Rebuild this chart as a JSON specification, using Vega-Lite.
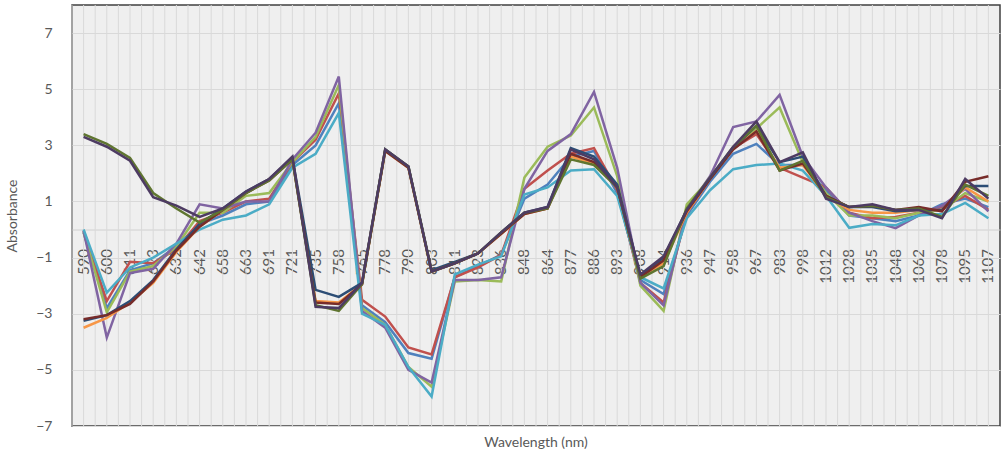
{
  "$schema": "https://vega.github.io/schema/vega-lite/v6.json",
  "width": 928,
  "height": 421,
  "autosize": {"type": "none"},
  "padding": {"left": 72, "top": 5, "right": 6, "bottom": 31},
  "background": "white",
  "config": {
    "font": "Lato",
    "view": {"stroke": "#404040", "strokeWidth": 1.5, "fill": "#efefef"},
    "axisX": {
      "title": null,
      "labelAngle": -90,
      "offset": -196.5,
      "ticks": false,
      "grid": false,
      "domainColor": "#d0d0d0",
      "domainWidth": 1,
      "labelColor": "#595959",
      "labelFont": "Lato",
      "labelFontSize": 15,
      "labelPadding": 19,
      "labelOverlap": false
    }
  },
  "title": {
    "text": "Wavelength (nm)",
    "orient": "bottom",
    "anchor": "middle",
    "font": "Lato",
    "fontSize": 14,
    "fontWeight": "normal",
    "color": "#595959",
    "offset": 3
  },
  "data": {
    "values": [
      {"wl": 590, "S1": -0.1, "S2": -0.05, "S3": -0.1, "S4": -0.05, "S5": 0.0, "S6": -3.5, "S7": -3.25, "S8": -3.2, "S9": 3.4, "S10": 3.3},
      {"wl": 600, "S1": -2.8, "S2": -2.55, "S3": -2.95, "S4": -3.85, "S5": -2.25, "S6": -3.15, "S7": -3.05, "S8": -3.05, "S9": 3.05, "S10": 2.95},
      {"wl": 611, "S1": -1.45, "S2": -1.15, "S3": -1.5, "S4": -1.55, "S5": -1.35, "S6": -2.6, "S7": -2.55, "S8": -2.65, "S9": 2.55, "S10": 2.45},
      {"wl": 623, "S1": -1.2, "S2": -1.2, "S3": -1.3, "S4": -1.4, "S5": -1.0, "S6": -1.9, "S7": -1.8, "S8": -1.85, "S9": 1.3, "S10": 1.15},
      {"wl": 632, "S1": -0.6, "S2": -0.7, "S3": -0.6, "S4": -0.5, "S5": -0.5, "S6": -0.8, "S7": -0.7, "S8": -0.75, "S9": 0.75, "S10": 0.85},
      {"wl": 642, "S1": 0.2, "S2": 0.3, "S3": 0.6, "S4": 0.9, "S5": 0.0, "S6": 0.1, "S7": 0.2, "S8": 0.1, "S9": 0.25, "S10": 0.45},
      {"wl": 658, "S1": 0.5, "S2": 0.6, "S3": 0.6, "S4": 0.75, "S5": 0.35, "S6": 0.7, "S7": 0.75, "S8": 0.7, "S9": 0.7, "S10": 0.75},
      {"wl": 663, "S1": 0.9, "S2": 1.0, "S3": 1.2, "S4": 1.0, "S5": 0.5, "S6": 1.3, "S7": 1.35, "S8": 1.3, "S9": 1.3, "S10": 1.35},
      {"wl": 691, "S1": 1.0, "S2": 1.1, "S3": 1.3, "S4": 1.0, "S5": 0.9, "S6": 1.8, "S7": 1.8, "S8": 1.75, "S9": 1.75, "S10": 1.8},
      {"wl": 721, "S1": 2.3, "S2": 2.4, "S3": 2.4, "S4": 2.5, "S5": 2.2, "S6": 2.5, "S7": 2.55, "S8": 2.5, "S9": 2.5, "S10": 2.6},
      {"wl": 735, "S1": 3.0, "S2": 3.2, "S3": 3.3, "S4": 3.45, "S5": 2.7, "S6": -2.55, "S7": -2.15, "S8": -2.6, "S9": -2.7, "S10": -2.75},
      {"wl": 758, "S1": 4.5, "S2": 4.85, "S3": 5.15, "S4": 5.45, "S5": 4.15, "S6": -2.6, "S7": -2.4, "S8": -2.65, "S9": -2.9, "S10": -2.8},
      {"wl": 765, "S1": -2.7, "S2": -2.5, "S3": -2.8, "S4": -2.9, "S5": -3.0, "S6": -1.95, "S7": -1.9, "S8": -1.95, "S9": -1.95, "S10": -1.9},
      {"wl": 778, "S1": -3.3, "S2": -3.1, "S3": -3.4, "S4": -3.5, "S5": -3.4, "S6": 2.8, "S7": 2.85, "S8": 2.8, "S9": 2.85, "S10": 2.85},
      {"wl": 790, "S1": -4.4, "S2": -4.2, "S3": -4.9, "S4": -5.0, "S5": -4.9, "S6": 2.2, "S7": 2.25, "S8": 2.2, "S9": 2.25, "S10": 2.25},
      {"wl": 803, "S1": -4.6, "S2": -4.45, "S3": -5.6, "S4": -5.45, "S5": -5.95, "S6": -1.5, "S7": -1.45, "S8": -1.5, "S9": -1.5, "S10": -1.5},
      {"wl": 811, "S1": -1.7, "S2": -1.7, "S3": -1.85, "S4": -1.8, "S5": -1.6, "S6": -1.2, "S7": -1.15, "S8": -1.2, "S9": -1.2, "S10": -1.2},
      {"wl": 823, "S1": -1.3, "S2": -1.35, "S3": -1.8, "S4": -1.8, "S5": -1.25, "S6": -0.85, "S7": -0.85, "S8": -0.85, "S9": -0.85, "S10": -0.85},
      {"wl": 836, "S1": -0.9, "S2": -0.9, "S3": -1.85, "S4": -1.7, "S5": -0.95, "S6": -0.15, "S7": -0.1, "S8": -0.15, "S9": -0.1, "S10": -0.1},
      {"wl": 848, "S1": 1.1, "S2": 1.45, "S3": 1.85, "S4": 1.45, "S5": 1.25, "S6": 0.55, "S7": 0.6, "S8": 0.55, "S9": 0.6, "S10": 0.6},
      {"wl": 864, "S1": 1.6, "S2": 2.1, "S3": 2.95, "S4": 2.8, "S5": 1.5, "S6": 0.75, "S7": 0.8, "S8": 0.75, "S9": 0.75, "S10": 0.8},
      {"wl": 877, "S1": 2.6, "S2": 2.7, "S3": 3.35, "S4": 3.4, "S5": 2.1, "S6": 2.6, "S7": 2.9, "S8": 2.7, "S9": 2.5, "S10": 2.85},
      {"wl": 886, "S1": 2.8, "S2": 2.9, "S3": 4.35, "S4": 4.9, "S5": 2.15, "S6": 2.35, "S7": 2.6, "S8": 2.4, "S9": 2.3, "S10": 2.5},
      {"wl": 893, "S1": 1.3, "S2": 1.4, "S3": 1.9, "S4": 2.2, "S5": 1.2, "S6": 1.5, "S7": 1.6, "S8": 1.5, "S9": 1.5, "S10": 1.5},
      {"wl": 908, "S1": -1.8, "S2": -1.9, "S3": -2.0, "S4": -1.9, "S5": -1.7, "S6": -1.7, "S7": -1.65, "S8": -1.7, "S9": -1.75, "S10": -1.6},
      {"wl": 914, "S1": -2.3, "S2": -2.6, "S3": -2.9, "S4": -2.7, "S5": -2.1, "S6": -1.2, "S7": -1.0, "S8": -1.1, "S9": -1.3, "S10": -0.95},
      {"wl": 936, "S1": 0.5, "S2": 0.6, "S3": 0.9, "S4": 0.7, "S5": 0.4, "S6": 0.6, "S7": 0.7, "S8": 0.65, "S9": 0.75, "S10": 0.7},
      {"wl": 947, "S1": 1.7, "S2": 1.8, "S3": 1.8, "S4": 1.9, "S5": 1.4, "S6": 1.8, "S7": 1.8, "S8": 1.8, "S9": 1.85, "S10": 1.85},
      {"wl": 958, "S1": 2.7, "S2": 2.9, "S3": 2.9, "S4": 3.65, "S5": 2.15, "S6": 2.9, "S7": 2.9, "S8": 2.85, "S9": 2.95, "S10": 2.95},
      {"wl": 967, "S1": 3.05, "S2": 3.4, "S3": 3.6, "S4": 3.85, "S5": 2.3, "S6": 3.5, "S7": 3.7, "S8": 3.5, "S9": 3.7, "S10": 3.85},
      {"wl": 983, "S1": 2.3, "S2": 2.2, "S3": 4.35, "S4": 4.8, "S5": 2.35, "S6": 2.2, "S7": 2.4, "S8": 2.1, "S9": 2.1, "S10": 2.4},
      {"wl": 998, "S1": 2.3, "S2": 1.85, "S3": 2.4, "S4": 2.6, "S5": 2.1, "S6": 2.3, "S7": 2.6, "S8": 2.35, "S9": 2.45, "S10": 2.75},
      {"wl": 1012, "S1": 1.4, "S2": 1.5, "S3": 1.3, "S4": 1.5, "S5": 1.2, "S6": 1.2, "S7": 1.2, "S8": 1.2, "S9": 1.15, "S10": 1.1},
      {"wl": 1028, "S1": 0.5, "S2": 0.6, "S3": 0.5, "S4": 0.6, "S5": 0.06, "S6": 0.7, "S7": 0.8, "S8": 0.8, "S9": 0.8, "S10": 0.8},
      {"wl": 1035, "S1": 0.4, "S2": 0.4, "S3": 0.5, "S4": 0.3, "S5": 0.2, "S6": 0.6, "S7": 0.8, "S8": 0.85, "S9": 0.85, "S10": 0.9},
      {"wl": 1048, "S1": 0.3, "S2": 0.45, "S3": 0.4, "S4": 0.05, "S5": 0.15, "S6": 0.6, "S7": 0.65, "S8": 0.7, "S9": 0.7, "S10": 0.7},
      {"wl": 1062, "S1": 0.5, "S2": 0.6, "S3": 0.6, "S4": 0.5, "S5": 0.5, "S6": 0.7, "S7": 0.7, "S8": 0.8, "S9": 0.75, "S10": 0.7},
      {"wl": 1078, "S1": 0.9, "S2": 0.8, "S3": 0.7, "S4": 0.85, "S5": 0.55, "S6": 0.7, "S7": 0.7, "S8": 0.65, "S9": 0.45, "S10": 0.4},
      {"wl": 1095, "S1": 1.1, "S2": 1.2, "S3": 1.3, "S4": 1.45, "S5": 0.95, "S6": 1.5, "S7": 1.55, "S8": 1.7, "S9": 1.6, "S10": 1.8},
      {"wl": 1107, "S1": 0.8, "S2": 0.7, "S3": 1.0, "S4": 0.65, "S5": 0.4, "S6": 1.0, "S7": 1.55, "S8": 1.9, "S9": 1.2, "S10": 1.1}
    ]
  },
  "layer": [
    {
      "mark": {"type": "rule", "color": "#d9d9d9", "strokeWidth": 1},
      "encoding": {
        "x": {
          "field": "wl",
          "type": "ordinal",
          "bandPosition": 0,
          "scale": {"type": "band", "paddingInner": 0, "paddingOuter": 0}
        }
      }
    },
    {
      "mark": {"type": "rule", "color": "#d9d9d9", "strokeWidth": 1},
      "encoding": {
        "x": {"field": "wl", "type": "ordinal", "bandPosition": 0.5}
      }
    },
    {
      "transform": [
        {"fold": ["S1", "S2", "S3", "S4", "S5", "S6", "S7", "S8", "S9", "S10"], "as": ["series", "v"]}
      ],
      "mark": {"type": "line", "strokeWidth": 2.5, "strokeJoin": "miter", "strokeCap": "butt"},
      "encoding": {
        "x": {"field": "wl", "type": "ordinal", "bandPosition": 0.5},
        "y": {
          "field": "v",
          "type": "quantitative",
          "scale": {"domain": [-7, 8], "nice": false, "zero": false},
          "axis": {
            "values": [-7, -5, -3, -1, 1, 3, 5, 7],
            "title": "Absorbance",
            "grid": true,
            "gridColor": "#d9d9d9",
            "domain": false,
            "ticks": false,
            "labelPadding": 20,
            "labelColor": "#595959",
            "labelFont": "Lato",
            "labelFontSize": 14,
            "titleFont": "Lato",
            "titleFontSize": 14,
            "titleFontWeight": "normal",
            "titleColor": "#595959",
            "titlePadding": 16
          }
        },
        "color": {
          "field": "series",
          "type": "nominal",
          "legend": null,
          "scale": {
            "domain": ["S1", "S2", "S3", "S4", "S5", "S6", "S7", "S8", "S9", "S10"],
            "range": ["#4F81BD", "#C0504D", "#9BBB59", "#8064A2", "#4BACC6", "#F79646", "#2C4D75", "#772C2A", "#5F7530", "#4D3B62"]
          }
        }
      }
    }
  ]
}
